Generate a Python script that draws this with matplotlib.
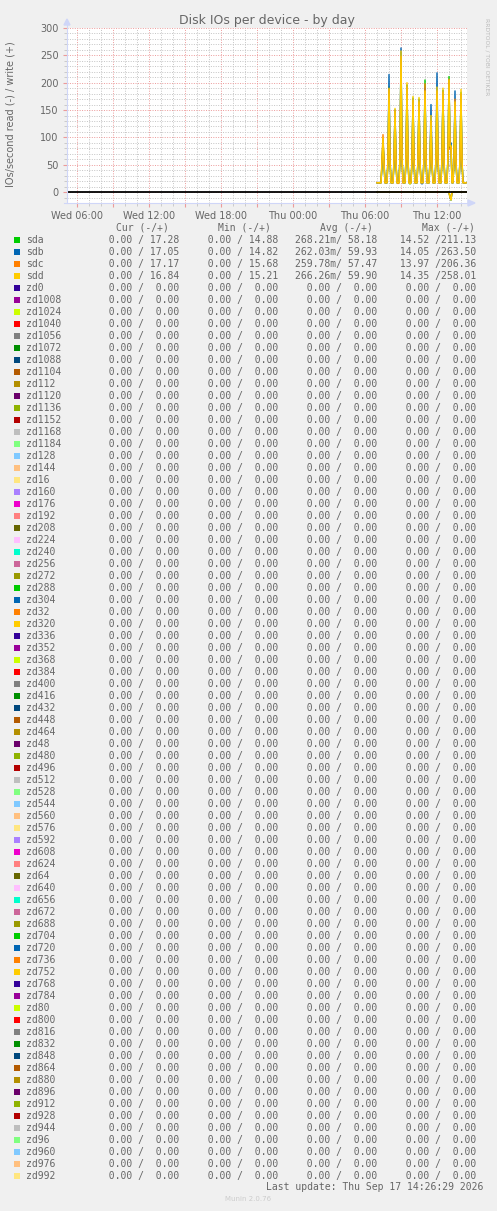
import matplotlib
matplotlib.use("Agg")
import matplotlib.pyplot as plt
from matplotlib.patches import Rectangle, Polygon
import numpy as np

# --- data ---------------------------------------------------------------
# samples every 5 minutes from Thu 07:00, hours relative to Thu 00:00
start_hour = 7.0
step_min = 5

write_sda = [17.1, 17.0, 17.3, 16.9, 17.2, 52,
             95, 55, 17.0, 17.2, 16.9, 58,
             192, 60, 17.1, 16.8, 17.2, 57,
             150, 54, 17.0, 17.3, 16.9, 63,
             255, 66, 17.2, 16.9, 17.0, 61,
             196, 59, 17.1, 14.88, 17.2, 58,
             172, 56, 16.9, 17.1, 17.0, 60,
             170, 57, 17.2, 16.9, 17.1, 65,
             205, 62, 17.0, 17.2, 16.8, 55,
             132, 50, 17.1, 16.9, 17.2, 64,
             190, 61, 17.0, 17.1, 16.9, 62,
             186, 58, 17.2, 17.0, 16.9, 67,
             211.13, 80, 86, 17.1, 17.0, 56,
             165, 55, 17.2, 16.9, 17.1, 60,
             182, 57, 17.0, 17.2, 16.9, 17.28]
write_sdb = [16.9, 17.1, 17.0, 17.2, 16.8, 48,
             92, 52, 17.1, 16.9, 17.0, 64,
             215, 65, 17.0, 17.2, 16.9, 56,
             150, 53, 17.1, 16.9, 17.2, 68,
             263.5, 70, 17.0, 17.1, 16.9, 62,
             195, 60, 17.2, 16.9, 17.0, 59,
             170, 55, 17.1, 17.0, 16.9, 61,
             168, 56, 17.0, 14.82, 17.1, 62,
             190, 60, 16.9, 17.1, 17.0, 60,
             160, 58, 17.2, 16.9, 17.1, 66,
             218, 68, 17.0, 17.1, 16.9, 63,
             185, 59, 17.1, 17.0, 17.2, 64,
             200, 88, 90, 17.0, 16.9, 58,
             185, 60, 17.1, 17.0, 16.9, 61,
             178, 56, 17.2, 16.9, 17.0, 17.05]
write_sdc = [17.2, 17.0, 16.9, 17.1, 17.0, 58,
             105, 56, 17.0, 16.9, 17.2, 60,
             188, 58, 17.1, 17.0, 16.8, 58,
             148, 52, 17.2, 15.68, 17.1, 64,
             248, 63, 16.9, 17.2, 17.0, 60,
             192, 57, 17.0, 17.1, 16.9, 57,
             168, 55, 17.2, 16.9, 17.0, 59,
             165, 54, 17.1, 17.0, 17.2, 63,
             198, 61, 17.0, 16.9, 17.1, 56,
             130, 50, 16.9, 17.2, 17.0, 62,
             185, 60, 17.1, 16.9, 17.2, 61,
             183, 57, 17.0, 17.1, 16.9, 65,
             206.36, 78, 82, 17.0, 17.2, 57,
             170, 56, 16.9, 17.1, 17.0, 59,
             180, 55, 17.1, 17.0, 16.9, 17.17]
write_sdd = [17.0, 16.9, 17.2, 17.1, 16.8, 55,
             100, 50, 17.1, 16.9, 17.2, 62,
             190, 58, 17.0, 17.3, 16.8, 60,
             153, 55, 16.9, 17.2, 17.0, 66,
             258.01, 64, 17.1, 16.8, 17.2, 63,
             200, 58, 17.0, 15.21, 17.1, 60,
             175, 57, 16.9, 17.2, 17.0, 61,
             173, 56, 17.1, 16.9, 17.3, 64,
             185, 60, 17.0, 16.8, 17.2, 58,
             140, 52, 17.1, 17.0, 16.9, 65,
             192, 62, 16.8, 17.2, 17.0, 63,
             190, 60, 17.1, 16.9, 17.2, 66,
             205, 84, 85, 17.0, 16.9, 58,
             165, 57, 17.1, 17.0, 16.8, 62,
             188, 58, 17.0, 16.9, 17.1, 16.84]

read_sda = [0, 0, 0, 0, 0, 0,  0, 0, 0, 0, 0, 0,  0, 0, 0, 0, 0, 0,
            0, 0, 0, 0, 0, 0,  0, 0, 0, 0, 0, 0,  0, 0, 0, 0, 0, 0,
            0, 0, 0, 0, 0, 0,  0, 0, 0, 0, 0, 0,  0, 0, 0, 0, 0, 0,
            0, 0, 0, 0, 0, 0,  0, 0, 0, 0, 0, 0,  0, 0, 0, 0, 0, 0,
            0, 9.6, 14.52, 0, 0, 0,  0, 0, 0, 0, 0, 0,  0, 0, 0, 0, 0, 0]
read_sdb = [0, 0, 0, 0, 0, 0,  0, 0, 0, 0, 0, 0,  0, 0, 0, 0, 0, 0,
            0, 0, 0, 0, 0, 0,  0, 0, 0, 0, 0, 0,  0, 0, 0, 0, 0, 0,
            0, 0, 0, 0, 0, 0,  0, 0, 0, 0, 0, 0,  0, 0, 0, 0, 0, 0,
            0, 0, 0, 0, 0, 0,  0, 0, 0, 0, 0, 0,  0, 0, 0, 0, 0, 0,
            0, 9.5, 14.05, 0, 0, 0,  0, 0, 0, 0, 0, 0,  0, 0, 0, 0, 0, 0]
read_sdc = [0, 0, 0, 0, 0, 0,  0, 0, 0, 0, 0, 0,  0, 0, 0, 0, 0, 0,
            0, 0, 0, 0, 0, 0,  0, 0, 0, 0, 0, 0,  0, 0, 0, 0, 0, 0,
            0, 0, 0, 0, 0, 0,  0, 0, 0, 0, 0, 0,  0, 0, 0, 0, 0, 0,
            0, 0, 0, 0, 0, 0,  0, 0, 0, 0, 0, 0,  0, 0, 0, 0, 0, 0,
            0, 9.4, 13.97, 0, 0, 0,  0, 0, 0, 0, 0, 0,  0, 0, 0, 0, 0, 0]
read_sdd = [0, 0, 0, 0, 0, 0,  0, 0, 0, 0, 0, 0,  0, 0, 0, 0, 0, 0,
            0, 0, 0, 0, 0, 0,  0, 0, 0, 0, 0, 0,  0, 0, 0, 0, 0, 0,
            0, 0, 0, 0, 0, 0,  0, 0, 0, 0, 0, 0,  0, 0, 0, 0, 0, 0,
            0, 0, 0, 0, 0, 0,  0, 0, 0, 0, 0, 0,  0, 0, 0, 0, 0, 0,
            0, 9.8, 14.35, 0, 0, 0,  0, 0, 0, 0, 0, 0,  0, 0, 0, 0, 0, 0]

devices = ["sda", "sdb", "sdc", "sdd",
           "zd0", "zd1008", "zd1024", "zd1040", "zd1056", "zd1072", "zd1088",
           "zd1104", "zd112", "zd1120", "zd1136", "zd1152", "zd1168", "zd1184",
           "zd128", "zd144", "zd16", "zd160", "zd176", "zd192", "zd208", "zd224",
           "zd240", "zd256", "zd272", "zd288", "zd304", "zd32", "zd320", "zd336",
           "zd352", "zd368", "zd384", "zd400", "zd416", "zd432", "zd448", "zd464",
           "zd48", "zd480", "zd496", "zd512", "zd528", "zd544", "zd560", "zd576",
           "zd592", "zd608", "zd624", "zd64", "zd640", "zd656", "zd672", "zd688",
           "zd704", "zd720", "zd736", "zd752", "zd768", "zd784", "zd80", "zd800",
           "zd816", "zd832", "zd848", "zd864", "zd880", "zd896", "zd912", "zd928",
           "zd944", "zd96", "zd960", "zd976", "zd992"]

# legend statistics (read, write) for the disks; all zd devices are 0.00
cur_stats = {"sda": (0, 17.28), "sdb": (0, 17.05), "sdc": (0, 17.17), "sdd": (0, 16.84)}
min_stats = {"sda": (0, 14.88), "sdb": (0, 14.82), "sdc": (0, 15.68), "sdd": (0, 15.21)}
avg_stats = {"sda": (0.26821, 58.18), "sdb": (0.26203, 59.93),
             "sdc": (0.25978, 57.47), "sdd": (0.26626, 59.90)}
max_stats = {"sda": (14.52, 211.13), "sdb": (14.05, 263.50),
             "sdc": (13.97, 206.36), "sdd": (14.35, 258.01)}

palette = ["#00CC00", "#0066B3", "#FF8000", "#FFCC00", "#330099", "#990099",
           "#CCFF00", "#FF0000", "#808080", "#008F00", "#00487D", "#B35A00",
           "#B38F00", "#6B006B", "#8FB300", "#B30000", "#BEBEBE", "#80FF80",
           "#80C9FF", "#FFC080", "#FFE680", "#AA80FF", "#EE00CC", "#FF8080",
           "#666600", "#FFBFFF", "#00FFCC", "#CC6699", "#999900"]

x_tick_labels = ["Wed 06:00", "", "Wed 12:00", "", "Wed 18:00", "",
                 "Thu 00:00", "", "Thu 06:00", "", "Thu 12:00"]

# --- figure -------------------------------------------------------------
W, H = 497, 1211
fig = plt.figure(figsize=(W / 100, H / 100), dpi=100, facecolor="#F0F0F0")
font_col = "#666666"
axis_col = "#CFD6F8"

ax = fig.add_axes([67 / W, 1 - 203 / H, 400 / W, 175 / H])
ax.set_facecolor("white")
ax.set_xlim(-18 - 50 / 60, 14.5)
ax.set_ylim(-20, 300)

ax.set_yticks(np.arange(0, 301, 50))
ax.set_yticks(np.arange(-20, 301, 10), minor=True)
ax.set_xticks(np.arange(-18, 13, 3))
ax.set_xticks(np.arange(-18, 15, 1), minor=True)
ax.set_xticklabels(x_tick_labels)
ax.grid(which="minor", color="#C4C4C4", linestyle=(0, (1, 1.5)), linewidth=0.7)
ax.grid(which="major", color="#EC9A9A", linestyle=(0, (1, 1.5)), linewidth=0.7)
ax.tick_params(which="both", labelsize=7, labelcolor=font_col, length=2,
               color="#C4C4C4", pad=3)
ax.tick_params(which="major", color="#EC9A9A", length=3)
for s in ax.spines.values():
    s.set_visible(False)
ax.set_axisbelow(True)

hours = start_hour + np.arange(len(write_sda)) * step_min / 60
writes = [write_sda, write_sdb, write_sdc, write_sdd]
reads = [read_sda, read_sdb, read_sdc, read_sdd]
for i, (r, w) in enumerate(zip(reads, writes)):
    ax.plot(hours, -np.array(r), color=palette[i], lw=1.0, zorder=3)
    ax.plot(hours, w, color=palette[i], lw=1.0, zorder=3)
ax.axhline(0, color="black", lw=1.3, zorder=4)

ax.set_ylabel("IOs/second read (-) / write (+)", fontsize=7, color=font_col)
ax.yaxis.set_label_coords(-51 / 400, 0.51)
ax.set_title("Disk IOs per device - by day", fontsize=9, color=font_col, pad=3)

# --- overlay in pixel coordinates for axes arrows and legend -------------
ov = fig.add_axes([0, 0, 1, 1], facecolor="none")
ov.set_xlim(0, W)
ov.set_ylim(H, 0)
ov.axis("off")

ov.plot([67, 67], [203, 24], color=axis_col, lw=0.8)
ov.plot([64, 470], [203, 203], color=axis_col, lw=0.8)
ov.add_patch(Polygon([[64, 25], [70, 25], [67, 19]], closed=True, color=axis_col))
ov.add_patch(Polygon([[468, 200], [468, 206], [475, 203]], closed=True, color=axis_col))

ov.text(487, 18, "RRDTOOL / TOBI OETIKER", rotation=270, fontsize=4.3,
        color="#BBBBBB", ha="center", va="top")


def fmt_pair(pair):
    r, w = pair
    if r != 0 and abs(r) < 1:
        left = f"{r * 1000:6.2f}m"
    else:
        left = f"{r:6.2f} "
    return left + "/" + f"{w:6.2f}"


mono = "DejaVu Sans Mono"
col_right = [179, 278, 377, 476]
head_right = [169, 271, 373, 475]
for x, h in zip(head_right, ["Cur (-/+)", "Min (-/+)", "Avg (-/+)", "Max (-/+)"]):
    ov.text(x, 228, h, family=mono, fontsize=7, color=font_col, ha="right", va="center")

for j, name in enumerate(devices):
    y = 240 + 12 * j
    ov.add_patch(Rectangle((14, y - 3), 6, 6, color=palette[j % len(palette)], lw=0))
    ov.text(26, y, name, family=mono, fontsize=7, color=font_col, va="center")
    for x, st in zip(col_right, [cur_stats, min_stats, avg_stats, max_stats]):
        ov.text(x, y, fmt_pair(st.get(name, (0, 0))), family=mono, fontsize=7,
                color=font_col, ha="right", va="center")

ov.text(483, 1187, "Last update: Thu Sep 17 14:26:29 2026", family=mono,
        fontsize=7, color=font_col, ha="right", va="center")
ov.text(248, 1199, "Munin 2.0.76", fontsize=5, color="#CCCCCC", ha="center", va="center")

fig.savefig("out.png", dpi=100, facecolor=fig.get_facecolor())
